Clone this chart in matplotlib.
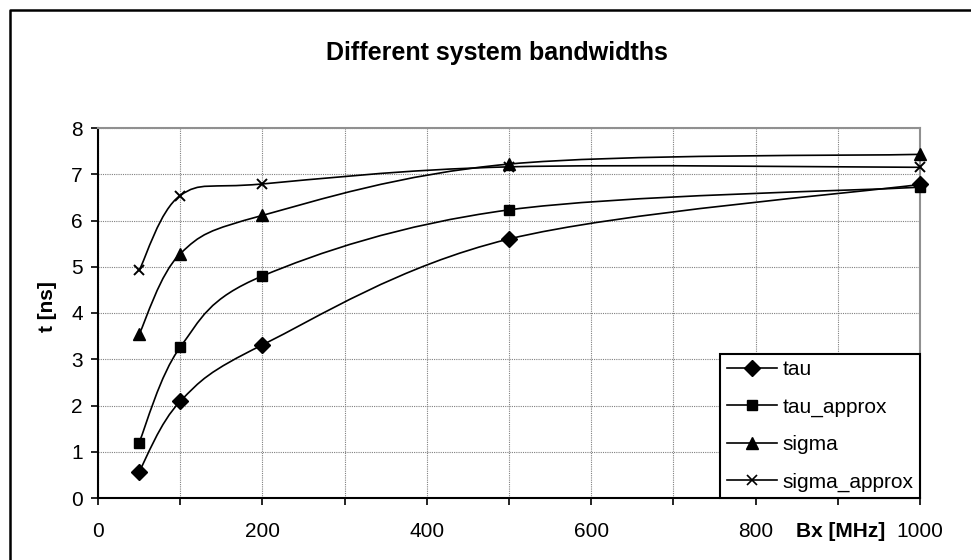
import numpy as np
import matplotlib
matplotlib.use("Agg")
import matplotlib.pyplot as plt
from matplotlib.path import Path
from matplotlib.patches import PathPatch
from matplotlib.lines import Line2D

plt.rcParams['font.family'] = ['Liberation Sans', 'DejaVu Sans']

# data
bx = [50, 100, 200, 500, 1000]
tau = [0.57, 2.09, 3.31, 5.60, 6.78]
tau_approx = [1.20, 3.26, 4.80, 6.23, 6.72]
sigma = [3.54, 5.28, 6.11, 7.22, 7.43]
sigma_approx = [4.92, 6.54, 6.79, 7.16, 7.15]

names = ["tau", "tau_approx", "sigma", "sigma_approx"]
series = [tau, tau_approx, sigma, sigma_approx]
markers = ["D", "s", "^", "x"]
msizes = [8, 7.5, 9, 7]


def smooth_path(x, y):
    # excel-like smoothed line: bezier segments with catmull-rom control points
    p = np.column_stack([x, y]).astype(float)
    pts = np.vstack([p[0], p, p[-1]])
    verts = [p[0]]
    codes = [Path.MOVETO]
    for i in range(1, len(pts) - 2):
        p0, p1, p2, p3 = pts[i - 1], pts[i], pts[i + 1], pts[i + 2]
        c1 = p1 + (p2 - p0) / 6.0
        c2 = p2 - (p3 - p1) / 6.0
        verts += [c1, c2, p2]
        codes += [Path.CURVE4] * 3
    return Path(verts, codes)


fig = plt.figure(figsize=(9.71, 5.6), dpi=100)
ax = fig.add_axes([98 / 971, 1 - 498 / 560, (920 - 98) / 971, (498 - 128) / 560])

for vals, mk, ms in zip(series, markers, msizes):
    patch = PathPatch(smooth_path(bx, vals), facecolor="none", edgecolor="black",
                      lw=1.2, transform=ax.transData, zorder=3)
    ax.add_patch(patch)
    ax.plot(bx, vals, linestyle="none", marker=mk, markersize=ms, color="black",
            markeredgewidth=1.4 if mk == "x" else 1, clip_on=False, zorder=4)

ax.set_xlim(0, 1000)
ax.set_ylim(0, 8)
ax.set_xticks(range(0, 1001, 100))
ax.set_xticklabels([str(v) if v % 200 == 0 else "" for v in range(0, 1001, 100)])
ax.set_yticks(range(0, 9))
ax.tick_params(axis="both", direction="out", length=5, width=1.2, labelsize=15, colors="black")
ax.tick_params(axis="x", pad=12)
ax.tick_params(axis="y", pad=6)

ax.grid(True, color="#808080", linestyle=(0, (1, 1)), linewidth=0.8)
ax.set_axisbelow(True)
for s in ["left", "bottom"]:
    ax.spines[s].set_color("black")
    ax.spines[s].set_linewidth(1.5)
for s in ["top", "right"]:
    ax.spines[s].set_color("#909090")
    ax.spines[s].set_linewidth(1.5)

# axis title sits in the tick label row between 800 and 1000
fig.canvas.draw()
bb = ax.get_xticklabels()[0].get_window_extent()
yd = ax.transData.inverted().transform((0, (bb.y0 + bb.y1) / 2))[1]
ax.text(904, yd, "Bx [MHz]", ha="center", va="center", fontsize=15,
        fontweight="bold", clip_on=False)

fig.text(47 / 971, 1 - 307 / 560, "t [ns]", rotation=90, ha="center", va="center",
         fontsize=15, fontweight="bold")
fig.text(497 / 971, 1 - 53 / 560, "Different system bandwidths", ha="center", va="center",
         fontsize=18, fontweight="bold")

handles = [Line2D([], [], color="black", lw=1.2, marker=mk, markersize=ms,
                  markeredgewidth=1.2 if mk == "x" else 1)
           for mk, ms in zip(markers, msizes)]
leg = ax.legend(handles, names, loc="lower right", bbox_to_anchor=(1, 0), borderaxespad=0,
                fontsize=15, frameon=True, fancybox=False, handlelength=2.4,
                handletextpad=0.3, labelspacing=0.88, borderpad=0.3)
leg.get_frame().set_edgecolor("black")
leg.get_frame().set_linewidth(1.5)
leg.get_frame().set_alpha(1)
leg.set_zorder(10)

# outer chart frame (right and bottom run off the image)
fig.add_artist(Line2D([9.5 / 971, 9.5 / 971, 1.0], [0, 1 - 10 / 560, 1 - 10 / 560],
                      transform=fig.transFigure, color="black", lw=1.8))

fig.savefig("out.png", dpi=100)
